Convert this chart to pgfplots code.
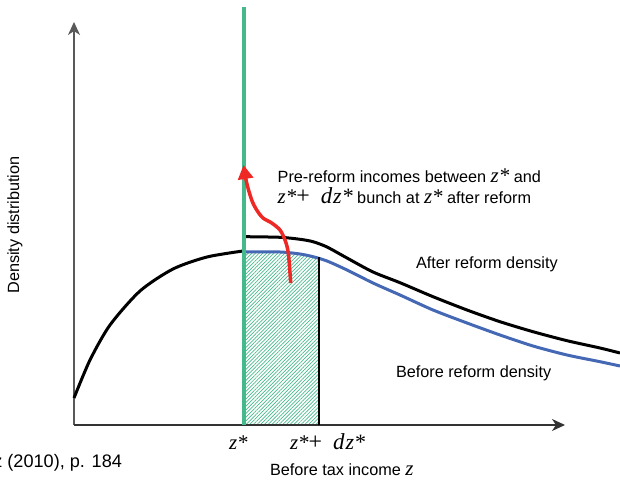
\documentclass[border=0pt]{standalone}
\usepackage{pgfplots}
\pgfplotsset{compat=1.18}
\usepackage{fontspec}
\setmainfont{Liberation Sans}
\newfontfamily\tms{Liberation Serif}
\usetikzlibrary{arrows.meta,patterns.meta}
\definecolor{zgreen}{RGB}{70,185,140}
\definecolor{dblue}{RGB}{68,104,180}
\definecolor{ared}{RGB}{238,40,36}
\newcommand\zs{{\tms\itshape\fontsize{21}{21}\selectfont z*}}
\newcommand\zt{{\tms\itshape\fontsize{21}{21}\selectfont z}}
\newcommand\zpd{\zs{}{\tms\fontsize{24}{24}\selectfont +}\hspace{11bp}{\tms\itshape\fontsize{23}{23}\selectfont d}\hspace{1bp}{\tms\itshape\fontsize{22}{22}\selectfont z*}}
\tikzset{lab/.style={font=\fontsize{16.3}{21.5}\selectfont, inner sep=0pt, outer sep=0pt}}
\begin{document}
\begin{tikzpicture}
\begin{axis}[
  width=620bp, height=483bp, scale only axis,
  xmin=0, xmax=620, ymin=0, ymax=483,
  hide axis, clip=false,
]
% hatched region
\addplot[draw=none, pattern={Lines[angle=45,distance=2.6bp,line width=0.7bp]}, pattern color=zgreen]
  coordinates {(246,58) (246,231) (280,231) (300,229) (313,226.3) (319,225) (319,58)} -- cycle;
% axes
\addplot[black!65, line width=1.2bp, -{Stealth[length=13bp,width=12bp,inset=4bp]}] coordinates {(74,58) (74,461)};
\addplot[black!80, line width=1.2bp, -{Stealth[length=13bp,width=12bp,inset=4bp]}] coordinates {(74,58) (565,58)};
% before reform density (blue)
\addplot[dblue, line width=3bp, smooth, tension=0.45] coordinates {
 (245,231) (280,231) (300,229) (313,226.3) (327,222) (347,213) (373,200) (400,188)
 (433,173) (467,160) (500,148) (533,137) (567,128) (600,121.3) (620,117)};
% after reform density (black)
\addplot[black, line width=3bp, smooth, tension=0.45] coordinates {
 (74,85) (90,123) (110,158) (140,192) (173,214) (207,226) (243,232)};
\addplot[black, line width=3bp, smooth, tension=0.45] coordinates {
 (245,246.3) (280,245.7) (300,243.7) (313,241.3) (327,236) (347,225) (373,211) (400,200.3)
 (433,186.3) (467,173) (500,161.3) (533,151.3) (567,142.3) (600,135) (620,130)};
% dz* boundary
\addplot[black, line width=2.5bp] coordinates {(319,58) (319,226)};
% z* line
\addplot[zgreen, line width=4.5bp] coordinates {(244,58) (244,476)};
% red arrow
\addplot[ared, line width=3.5bp, smooth, -{Triangle[length=14bp,width=15bp]}] coordinates {
 (290.7,200) (288.3,230) (285,243) (280,253) (271.7,260) (263,265) (256.7,273) (251.7,283) (246.7,300) (243.5,318)};
% texts
\node[lab, anchor=base west] at (axis cs:277.7,300.3) {Pre-reform incomes between \zs{} and};
\node[lab, anchor=base west] at (axis cs:277.7,279) {\zpd{} bunch at \zs{} after reform};
\node[lab, anchor=base west] at (axis cs:416,214.7) {After reform density};
\node[lab, anchor=base west] at (axis cs:396,105.3) {Before reform density};
\node[lab, anchor=base west] at (axis cs:270,7.3) {Before tax income \zt};
\node[lab, anchor=base west] at (axis cs:229,33) {\zs};
\node[lab, anchor=base west] at (axis cs:290,33) {\zpd};
\node[lab, anchor=base, rotate=90] at (axis cs:19,258) {Density distribution};
\node[lab, anchor=base east, overlay, font=\fontsize{18.2}{22}\selectfont] at (axis cs:122,15) {Source: Saez (2010), p. 184};
\end{axis}
\pgfresetboundingbox
\useasboundingbox (0,0) rectangle (620bp,483bp);
\end{tikzpicture}
\end{document}
